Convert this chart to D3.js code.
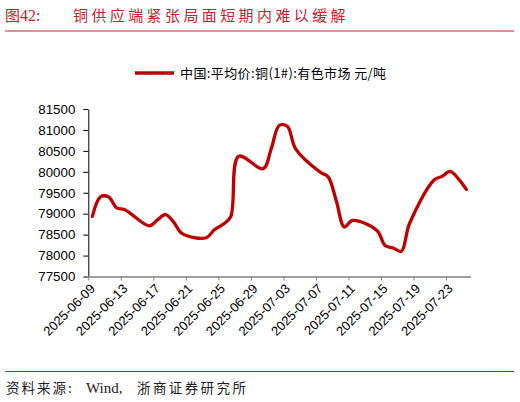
<!DOCTYPE html>
<html><head><meta charset="utf-8">
<script src="https://cdn.jsdelivr.net/npm/d3@7"></script>
<style>
html,body{margin:0;padding:0;background:#fff;}
svg{display:block;}
</style></head>
<body>
<svg id="c" width="520" height="402"></svg>
<script>
const dates = ["2025-06-09","2025-06-10","2025-06-11","2025-06-12","2025-06-13",
"2025-06-16","2025-06-17","2025-06-18","2025-06-19","2025-06-20",
"2025-06-23","2025-06-24","2025-06-25","2025-06-26","2025-06-27",
"2025-06-30","2025-07-01","2025-07-02","2025-07-03","2025-07-04",
"2025-07-07","2025-07-08","2025-07-09","2025-07-10","2025-07-11",
"2025-07-14","2025-07-15","2025-07-16","2025-07-17","2025-07-18",
"2025-07-21","2025-07-22","2025-07-23","2025-07-24","2025-07-25"];
const prices = [78935,79400,79400,79140,79095,
78710,78850,78980,78800,78530,
78425,78615,78735,78920,80370,
80075,80550,81110,81080,80550,
79995,79880,79310,78680,78840,
78600,78240,78180,78100,78760,
79800,79890,80010,79840,79580];
const yTicks = [77500,78000,78500,79000,79500,80000,80500,81000,81500];
const xTickLabels = ["2025-06-09","2025-06-13","2025-06-17","2025-06-21","2025-06-25","2025-06-29","2025-07-03","2025-07-07","2025-07-11","2025-07-15","2025-07-19","2025-07-23"];
const seriesName = "中国:平均价:铜(1#):有色市场 元/吨";
const titleNo = "图42:";
const titleText = "铜供应端紧张局面短期内难以缓解";
const sourceText = "资料来源:";
const sourceWind = "Wind,";
const sourceOrg = "浙商证券研究所";

const parse = d3.utcParse("%Y-%m-%d");
const svg = d3.select("#c");
const red = "#c00000";
const titleRed = "#c8202a";
const cjk = "'Noto Sans CJK SC','Noto Sans',sans-serif";
const num = "'Liberation Sans',Arial,sans-serif";

// title
svg.append("text").attr("x",5).attr("y",21).attr("fill",titleRed)
  .style("font-family",cjk).style("font-size","15px").text("图")
  .append("tspan").style("font-family","'Liberation Serif',serif").style("font-size","16px").text("42:");
svg.append("text").attr("x",73).attr("y",21).attr("fill",titleRed)
  .style("font-family",cjk).style("font-size","15px").style("letter-spacing","3.4px").text(titleText);
svg.append("line").attr("x1",5).attr("x2",514).attr("y1",31).attr("y2",31)
  .attr("stroke",titleRed).attr("stroke-width",1);

// legend
svg.append("line").attr("x1",135).attr("x2",174).attr("y1",73).attr("y2",73)
  .attr("stroke",red).attr("stroke-width",3.5);
svg.append("text").attr("x",180).attr("y",77.5).attr("fill","#000")
  .style("font-family",cjk).style("font-size","13px").style("letter-spacing","0.4px").text(seriesName);

// scales
const x = d3.scaleUtc().domain([parse("2025-06-09"), parse("2025-07-26")]).range([88.3, 470.4]);
const y = d3.scaleLinear().domain([77500, 81500]).range([276.5, 109]);

// y axis
const yAxis = d3.axisLeft(y).tickValues(yTicks).tickSize(5).tickSizeOuter(0).tickPadding(8).tickFormat(d3.format("d"));
const gy = svg.append("g").attr("transform","translate(88.3,0)").call(yAxis);
gy.selectAll("path,line").attr("stroke","#000");
gy.selectAll("text").style("font-family",num).style("font-size","13.3px").attr("fill","#000");

// x axis
const xAxis = d3.axisBottom(x).tickValues(xTickLabels.map(parse)).tickSize(4).tickSizeOuter(0).tickFormat(d3.utcFormat("%Y-%m-%d"));
const gx = svg.append("g").attr("transform","translate(0,276.5)").call(xAxis);
gx.select(".domain").attr("stroke","#808080").attr("stroke-width",1.5);
gx.selectAll(".tick line").attr("stroke","#808080");
gx.selectAll("text").style("font-family",num).style("font-size","13px").attr("fill","#000")
  .attr("text-anchor","end").attr("dy",null).attr("y",0)
  .attr("transform","translate(7,13) rotate(-45)");

// line
const data = dates.map((d,i)=>({d: new Date(parse(d).getTime()+12*3600*1000), v: prices[i]}));
const line = d3.line().x(d=>x(d.d)).y(d=>y(d.v)).curve(d3.curveCatmullRom.alpha(0.5));
svg.append("path").datum(data).attr("d",line).attr("fill","none")
  .attr("stroke",red).attr("stroke-width",3.3).attr("stroke-linejoin","round").attr("stroke-linecap","round");

// footer
svg.append("line").attr("x1",5).attr("x2",514).attr("y1",371.5).attr("y2",371.5)
  .attr("stroke",titleRed).attr("stroke-width",1);
const ft = svg.append("text").attr("x",6).attr("y",393).attr("fill","#222")
  .style("font-family",cjk).style("font-size","13.5px");
ft.append("tspan").style("letter-spacing","2px").text(sourceText);
ft.append("tspan").attr("x",86).style("font-family","'Liberation Serif',serif").style("font-size","15px").text(sourceWind);
ft.append("tspan").attr("x",137).style("letter-spacing","2.4px").text(sourceOrg);
</script>
</body></html>
